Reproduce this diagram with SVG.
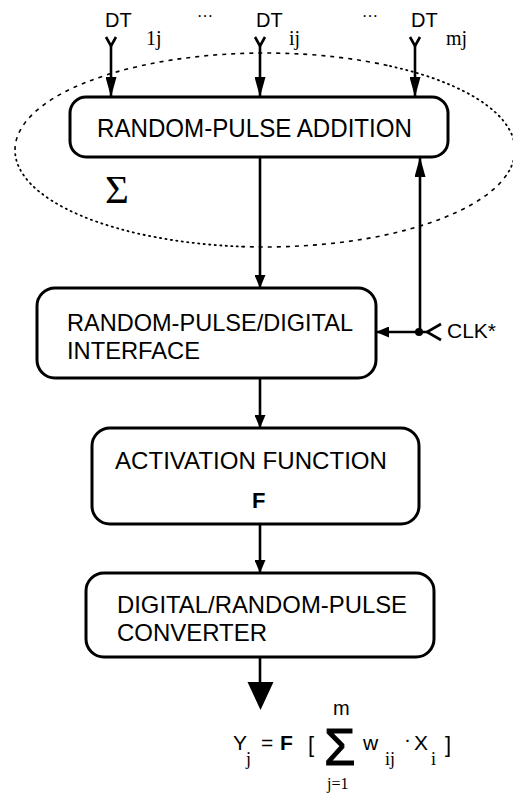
<svg xmlns="http://www.w3.org/2000/svg" width="513" height="793" viewBox="0 0 513 793">
<style>
.box{fill:#fff;stroke:#000;stroke-width:3}
.ln{fill:none;stroke:#000;stroke-width:2.6}
.sans{font-family:"Liberation Sans",Arial,sans-serif;fill:#000}
.serif{font-family:"Liberation Serif","Times New Roman",serif;fill:#000}
.bt{font-size:24px}
.dt{font-size:20px}
.sub{font-size:20px}
.fs{font-size:18px}
.dash{fill:none;stroke:#000;stroke-width:1.6;stroke-dasharray:4 5}
.dot{fill:none;stroke:#000;stroke-width:1.8;stroke-dasharray:1.2 4.3;stroke-linecap:round}
</style>
<defs>
<marker id="arrL" markerUnits="userSpaceOnUse" viewBox="0 0 20 11" markerWidth="20" markerHeight="11" refX="20" refY="5.5" orient="auto"><path d="M0,0 L20,5.5 L0,11 z" fill="#000"/></marker>
<marker id="arr" markerUnits="userSpaceOnUse" viewBox="0 0 13 11" markerWidth="13" markerHeight="11" refX="13" refY="5.5" orient="auto"><path d="M0,0 L13,5.5 L0,11 z" fill="#000"/></marker>
</defs>
<rect width="513" height="793" fill="#fff"/>

<g id="sigma-region">
<path class="dash" d="M15,150 A250,97 0 0 1 390,66"/>
<path class="dot" d="M390,66 A250,97 0 0 1 506.5,175"/>
<path class="dash" d="M506.5,175 A250,97 0 0 1 243.2,246.6"/>
<path class="dot" d="M243.2,246.6 A250,97 0 0 1 15,150"/>
<text class="serif" x="105" y="203" font-size="41">Σ</text>
</g>

<g id="connectors">
<polyline class="ln" points="106,37 111,46 116,37"/>
<line class="ln" x1="111" y1="46" x2="111" y2="97" marker-end="url(#arrL)"/>
<polyline class="ln" points="255,37 260,46 265,37"/>
<line class="ln" x1="260" y1="46" x2="260" y2="97" marker-end="url(#arrL)"/>
<polyline class="ln" points="410,37 415,46 420,37"/>
<line class="ln" x1="415" y1="46" x2="415" y2="97" marker-end="url(#arrL)"/>
<line class="ln" x1="260" y1="157" x2="260" y2="288" marker-end="url(#arr)"/>
<line class="ln" x1="420" y1="332" x2="420" y2="157" marker-end="url(#arrL)"/>
<line class="ln" x1="427" y1="332" x2="376" y2="332" marker-end="url(#arr)"/>
<polyline class="ln" points="441,324 427,332 441,340"/>
<circle cx="419" cy="332" r="4" fill="#000"/>
<line class="ln" x1="260" y1="378" x2="260" y2="428" marker-end="url(#arr)"/>
<line class="ln" x1="260" y1="524" x2="260" y2="573" marker-end="url(#arr)"/>
<line class="ln" x1="260" y1="657" x2="260" y2="683"/>
<path d="M247.5,682 L273.5,682 L260.5,710 z" fill="#000"/>
</g>

<g id="inputs">
<text class="sans dt" x="105" y="27">DT</text>
<text class="serif sub" x="146" y="45">1j</text>
<text class="serif" x="197" y="17" font-size="16">…</text>
<text class="sans dt" x="256" y="27">DT</text>
<text class="serif sub" x="289" y="45">ij</text>
<text class="serif" x="362" y="17" font-size="16">…</text>
<text class="sans dt" x="411" y="27">DT</text>
<text class="serif sub" x="446" y="45">mj</text>
</g>

<g id="node-addition">
<rect class="box" x="70" y="97" width="378" height="60" rx="16"/>
<text class="sans" x="97" y="137" font-size="25" textLength="315" lengthAdjust="spacingAndGlyphs">RANDOM-PULSE  ADDITION</text>
</g>

<g id="node-interface">
<rect class="box" x="37" y="288" width="339" height="90" rx="18"/>
<text class="sans bt" x="67" y="331" textLength="286" lengthAdjust="spacingAndGlyphs">RANDOM-PULSE/DIGITAL</text>
<text class="sans bt" x="67" y="359" textLength="133" lengthAdjust="spacingAndGlyphs">INTERFACE</text>
</g>

<g id="clk">
<text class="sans" x="447" y="338" font-size="21">CLK*</text>
</g>

<g id="node-activation">
<rect class="box" x="92" y="428" width="327" height="96" rx="18"/>
<text class="sans bt" x="115" y="469" textLength="272" lengthAdjust="spacingAndGlyphs">ACTIVATION  FUNCTION</text>
<text class="sans" x="252" y="508" font-size="22" font-weight="bold">F</text>
</g>

<g id="node-converter">
<rect class="box" x="86" y="573" width="348" height="84" rx="18"/>
<text class="sans bt" x="117" y="613" textLength="290" lengthAdjust="spacingAndGlyphs">DIGITAL/RANDOM-PULSE</text>
<text class="sans bt" x="117" y="641" textLength="150" lengthAdjust="spacingAndGlyphs">CONVERTER</text>
</g>

<g id="formula">
<text class="sans" x="233" y="750" font-size="21">Y</text>
<text class="serif fs" x="246" y="765">j</text>
<text class="sans" x="261" y="750" font-size="21">=</text>
<text class="sans" x="280" y="750" font-size="21" font-weight="bold">F</text>
<text class="sans" x="308" y="752" font-size="22">[</text>
<text class="sans" x="324" y="765" font-size="51" stroke="#000" stroke-width="1">Σ</text>
<text class="sans" x="333" y="715" font-size="20">m</text>
<text class="serif" x="327" y="789" font-size="16">j=1</text>
<text class="sans" x="363" y="750" font-size="21">w</text>
<text class="serif fs" x="385" y="765">ij</text>
<text class="sans" x="404" y="746" font-size="21">·</text>
<text class="sans" x="414" y="750" font-size="21">X</text>
<text class="serif fs" x="431" y="765">i</text>
<text class="sans" x="445" y="752" font-size="22">]</text>
</g>
</svg>
